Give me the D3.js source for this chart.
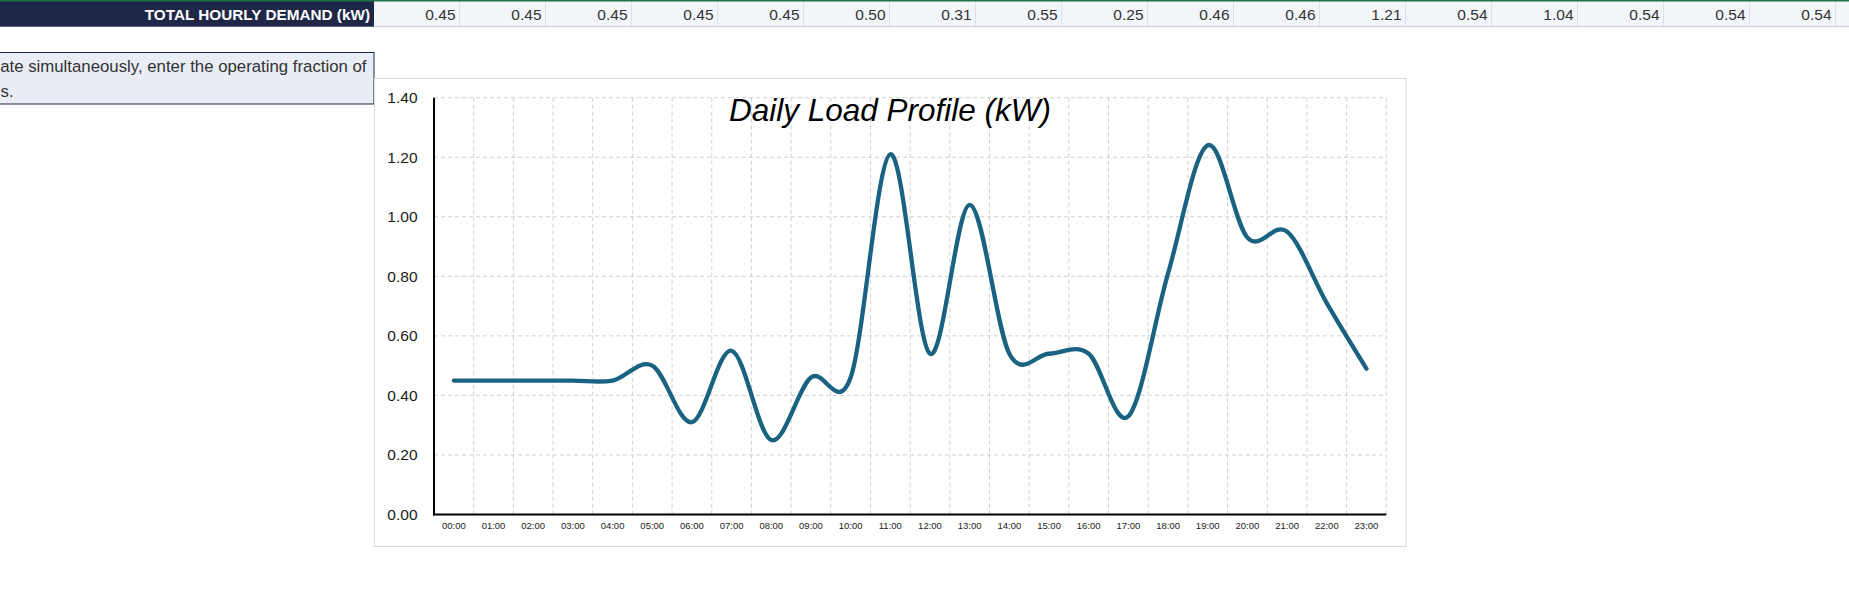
<!DOCTYPE html>
<html>
<head>
<meta charset="utf-8">
<title>Daily Load Profile</title>
<script src="https://cdn.jsdelivr.net/npm/d3@7"></script>
<style>
    html, body { margin: 0; padding: 0; background: #ffffff; overflow: hidden; }
    #sheet { width: 1849px; height: 606px; }
</style>
</head>
<body>
<div id="sheet"></div>
<script>
/* ============================================= */
/* Data */
/* ============================================= */

const hours = ['00:00', '01:00', '02:00', '03:00', '04:00', '05:00', '06:00', '07:00',
               '08:00', '09:00', '10:00', '11:00', '12:00', '13:00', '14:00', '15:00',
               '16:00', '17:00', '18:00', '19:00', '20:00', '21:00', '22:00', '23:00'];

const demand = [0.45, 0.45, 0.45, 0.45, 0.45, 0.50, 0.31, 0.55,
                0.25, 0.46, 0.46, 1.21, 0.54, 1.04, 0.54, 0.54,
                0.54, 0.33, 0.81, 1.24, 0.93, 0.95, 0.71, 0.49];

const yTicks = [0, 0.2, 0.4, 0.6, 0.8, 1.0, 1.2, 1.4];

const rowLabel = 'TOTAL HOURLY DEMAND (kW)';
const noteLines = ['ate simultaneously, enter the operating fraction of', 's.'];
const chartTitle = 'Daily Load Profile (kW)';

/* ============================================= */
/* Sheet Class Definition */
/* ============================================= */

class LoadSheet {
    constructor(container) {
        this.container = container;
        this.width = 1849;
        this.height = 606;
        this.plot = { left: 434, right: 1386.3, top: 97.7, bottom: 514.5 };

        this.initializeSVG();
        this.initializeScales();
        this.drawTableRow();
        this.drawNote();
        this.drawChart();
    }

    initializeSVG() {
        this.svg = d3.select(this.container)
            .append('svg')
            .attr('width', this.width)
            .attr('height', this.height)
            .style('display', 'block');
    }

    initializeScales() {
        this.x = d3.scaleBand()
            .domain(hours)
            .range([this.plot.left, this.plot.right])
            .padding(0);

        this.y = d3.scaleLinear()
            .domain([0, 1.4])
            .range([this.plot.bottom, this.plot.top]);

        // table columns, one per hour, scrolled so 00:00 starts after the label cell
        this.col = d3.scaleBand()
            .domain(hours)
            .range([374, 374 + 86 * hours.length])
            .padding(0);
    }

    /* ============================================= */
    /* Spreadsheet bits around the chart */
    /* ============================================= */

    drawTableRow() {
        const row = this.svg.append('g');
        const bw = this.col.bandwidth();

        row.selectAll('.cell')
            .data(demand)
            .enter().append('rect')
            .attr('class', 'cell')
            .attr('x', (d, i) => this.col(hours[i]))
            .attr('y', 1)
            .attr('width', bw)
            .attr('height', 25.5)
            .style('fill', '#f2f5f9');

        row.selectAll('.sep')
            .data(hours)
            .enter().append('line')
            .attr('class', 'sep')
            .attr('x1', d => this.col(d) + bw - 0.5)
            .attr('x2', d => this.col(d) + bw - 0.5)
            .attr('y1', 1)
            .attr('y2', 26.5)
            .style('stroke', '#dce0e6')
            .style('stroke-width', 1);

        row.append('line')
            .attr('x1', 374).attr('x2', this.width)
            .attr('y1', 26.5).attr('y2', 26.5)
            .style('stroke', '#d3d7de')
            .style('stroke-width', 1.5);

        // only the columns scrolled into view show their value
        const visible = demand
            .map((d, i) => ({ v: d, h: hours[i] }))
            .filter(d => this.col(d.h) + bw <= this.width);

        row.selectAll('.val')
            .data(visible)
            .enter().append('text')
            .attr('class', 'val')
            .attr('x', d => this.col(d.h) + bw - 4.5)
            .attr('y', 20)
            .attr('text-anchor', 'end')
            .style('font-family', '"Liberation Sans", Arial, sans-serif')
            .style('font-size', '15.5px')
            .style('fill', '#333333')
            .text(d => d3.format('.2f')(d.v));

        row.append('rect')
            .attr('x', 0).attr('y', 1)
            .attr('width', 374).attr('height', 25.7)
            .style('fill', '#1f2747');

        row.append('text')
            .attr('x', 370)
            .attr('y', 20)
            .attr('text-anchor', 'end')
            .style('font-family', '"Liberation Sans", Arial, sans-serif')
            .style('font-weight', 'bold')
            .style('font-size', '15.3px')
            .style('fill', '#ffffff')
            .text(rowLabel);

        // green edge of the sheet frame
        row.append('rect')
            .attr('x', 0).attr('y', 0)
            .attr('width', this.width).attr('height', 1.5)
            .style('fill', '#1e7145');
    }

    drawNote() {
        const note = this.svg.append('g');

        note.append('rect')
            .attr('x', -2).attr('y', 52.5)
            .attr('width', 376).attr('height', 51.5)
            .style('fill', '#e9edf5')
            .style('stroke', '#1f2747')
            .style('stroke-width', 1);

        note.append('text')
            .attr('x', 366.5)
            .attr('y', 72)
            .attr('text-anchor', 'end')
            .style('font-family', '"Liberation Sans", Arial, sans-serif')
            .style('font-size', '16.8px')
            .style('fill', '#333333')
            .text(noteLines[0]);

        note.append('text')
            .attr('x', 0.5)
            .attr('y', 96.5)
            .style('font-family', '"Liberation Sans", Arial, sans-serif')
            .style('font-size', '16.8px')
            .style('fill', '#333333')
            .text(noteLines[1]);
    }

    /* ============================================= */
    /* Chart Rendering */
    /* ============================================= */

    drawChart() {
        const chart = this.svg.append('g');
        const p = this.plot;

        chart.append('rect')
            .attr('x', 374.5).attr('y', 78.5)
            .attr('width', 1031.5).attr('height', 468)
            .style('fill', '#ffffff')
            .style('stroke', '#d9d9d9')
            .style('stroke-width', 1);

        // dashed gridlines, vertical ones sit between the categories
        chart.selectAll('.hgrid')
            .data(yTicks.filter(d => d > 0))
            .enter().append('line')
            .attr('class', 'hgrid')
            .attr('x1', p.left).attr('x2', p.right)
            .attr('y1', d => this.y(d)).attr('y2', d => this.y(d))
            .style('stroke', '#d0d0d0')
            .style('stroke-width', 1)
            .style('stroke-dasharray', '4,3');

        chart.selectAll('.vgrid')
            .data(hours)
            .enter().append('line')
            .attr('class', 'vgrid')
            .attr('x1', d => this.x(d) + this.x.bandwidth())
            .attr('x2', d => this.x(d) + this.x.bandwidth())
            .attr('y1', this.y(1.4)).attr('y2', this.y(0))
            .style('stroke', '#d0d0d0')
            .style('stroke-width', 1)
            .style('stroke-dasharray', '4,3');

        const yAxis = chart.append('g')
            .attr('transform', `translate(${p.left},0)`)
            .call(d3.axisLeft(this.y)
                .tickValues(yTicks)
                .tickFormat(d3.format('.2f'))
                .tickSize(0)
                .tickPadding(16.5));
        yAxis.select('.domain').remove();
        yAxis.selectAll('text')
            .style('font-family', '"Liberation Sans", Arial, sans-serif')
            .style('font-size', '15.5px')
            .style('fill', '#1a1a1a');

        const xAxis = chart.append('g')
            .attr('transform', `translate(0,${p.bottom})`)
            .call(d3.axisBottom(this.x).tickSize(0).tickPadding(8));
        xAxis.select('.domain').remove();
        xAxis.selectAll('text')
            .style('font-family', '"Liberation Sans", Arial, sans-serif')
            .style('font-size', '9.5px')
            .style('fill', '#1a1a1a');

        chart.append('line')
            .attr('x1', p.left).attr('x2', p.left)
            .attr('y1', this.y(1.4)).attr('y2', p.bottom + 1)
            .style('stroke', '#000000')
            .style('stroke-width', 2);

        chart.append('line')
            .attr('x1', p.left - 1).attr('x2', p.right)
            .attr('y1', p.bottom).attr('y2', p.bottom)
            .style('stroke', '#000000')
            .style('stroke-width', 2);

        // smoothed series, like the spreadsheet's smooth line option
        const line = d3.line()
            .x((d, i) => this.x(hours[i]) + this.x.bandwidth() / 2)
            .y(d => this.y(d))
            .curve(d3.curveCardinal.tension(0));

        chart.append('path')
            .datum(demand)
            .attr('d', line)
            .style('fill', 'none')
            .style('stroke', '#1a6282')
            .style('stroke-width', 4.3)
            .style('stroke-linecap', 'round')
            .style('stroke-linejoin', 'round');

        chart.append('text')
            .attr('x', 890)
            .attr('y', 121)
            .attr('text-anchor', 'middle')
            .style('font-family', '"Liberation Sans", Arial, sans-serif')
            .style('font-style', 'italic')
            .style('font-size', '31.5px')
            .style('fill', '#000000')
            .text(chartTitle);
    }
}

window.sheet = new LoadSheet(document.getElementById('sheet'));
</script>
</body>
</html>
